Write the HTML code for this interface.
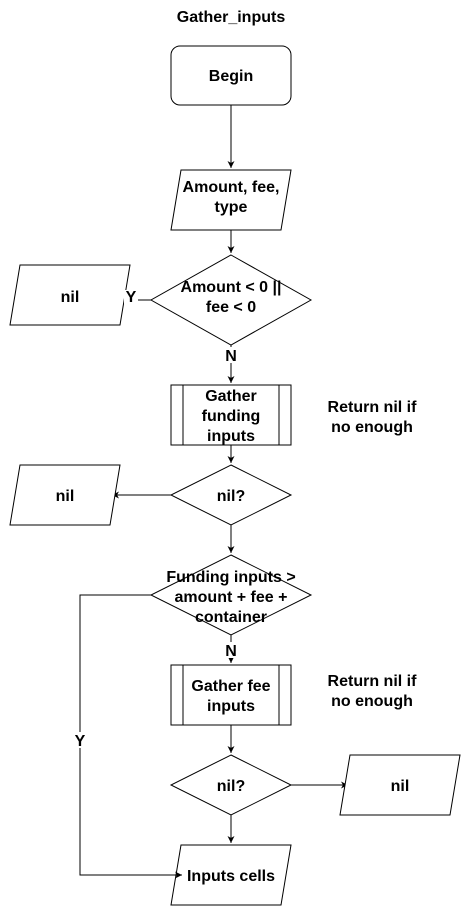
<!DOCTYPE html>
<html><head><style>body{margin:0;background:#fff}</style></head><body>
<svg width="461" height="906" xmlns="http://www.w3.org/2000/svg" font-family="Liberation Sans, Arial, sans-serif" font-weight="bold" font-size="16">
<defs><marker id="a" markerWidth="8" markerHeight="8" refX="7" refY="4" orient="auto" markerUnits="userSpaceOnUse"><path d="M0,0.5 L7,4 L0,7.5 L2,4 Z" fill="#000"/></marker></defs>
<g fill="none" stroke="#000" stroke-width="1">
<rect x="171" y="46" width="120" height="59" rx="9" fill="#fff"/>
<line x1="231" y1="105" x2="231" y2="168" marker-end="url(#a)"/>
<polygon points="181,170 291,170 281,230 171,230" fill="#fff"/>
<line x1="231" y1="230" x2="231" y2="253" marker-end="url(#a)"/>
<polygon points="231,255 311,300 231,345 151,300" fill="#fff"/>
<line x1="151" y1="300" x2="122" y2="300" marker-end="url(#a)"/>
<polygon points="20,265 130,265 120,325 10,325" fill="#fff"/>
<line x1="231" y1="345" x2="231" y2="383" marker-end="url(#a)"/>
<rect x="171" y="385" width="120" height="60" fill="#fff"/>
<line x1="183" y1="385" x2="183" y2="445"/><line x1="279" y1="385" x2="279" y2="445"/>
<line x1="231" y1="445" x2="231" y2="463" marker-end="url(#a)"/>
<polygon points="231,465 291,495 231,525 171,495" fill="#fff"/>
<line x1="171" y1="495" x2="112" y2="495" marker-end="url(#a)"/>
<polygon points="20,465 120,465 110,525 10,525" fill="#fff"/>
<line x1="231" y1="525" x2="231" y2="553" marker-end="url(#a)"/>
<polygon points="231,555 311,595 231,635 151,595" fill="#fff"/>
<polygon points="181,845 291,845 281,905 171,905" fill="#fff"/>
<polyline points="151,595 80,595 80,875 182,875" marker-end="url(#a)"/>
<line x1="231" y1="635" x2="231" y2="663" marker-end="url(#a)"/>
<rect x="171" y="665" width="120" height="60" fill="#fff"/>
<line x1="183" y1="665" x2="183" y2="725"/><line x1="279" y1="665" x2="279" y2="725"/>
<line x1="231" y1="725" x2="231" y2="753" marker-end="url(#a)"/>
<polygon points="231,755 291,785 231,815 171,785" fill="#fff"/>
<line x1="291" y1="785" x2="348" y2="785" marker-end="url(#a)"/>
<polygon points="350,755 460,755 450,815 340,815" fill="#fff"/>
<line x1="231" y1="815" x2="231" y2="843" marker-end="url(#a)"/>
</g>
<g text-anchor="middle" fill="#000">
<text x="231" y="22">Gather_inputs</text>
<text x="231" y="81">Begin</text>
<text x="231" y="192">Amount, fee,</text><text x="231" y="212">type</text>
<text x="231" y="292">Amount &lt; 0 ||</text><text x="231" y="312">fee &lt; 0</text>
<rect x="124" y="290" width="14" height="16" fill="#fff"/>
<text x="131" y="302">Y</text>
<text x="70" y="302">nil</text>
<rect x="224" y="347" width="14" height="16" fill="#fff"/>
<text x="231" y="361">N</text>
<text x="231" y="401">Gather</text><text x="231" y="421">funding</text><text x="231" y="441">inputs</text>
<text x="372" y="412">Return nil if</text><text x="372" y="432">no enough</text>
<text x="231" y="501">nil?</text>
<text x="65" y="501">nil</text>
<text x="231" y="582">Funding inputs &gt;</text><text x="231" y="602">amount + fee +</text><text x="231" y="622">container</text>
<rect x="224" y="642" width="14" height="16" fill="#fff"/>
<text x="231" y="656">N</text>
<rect x="73" y="732" width="14" height="16" fill="#fff"/>
<text x="80" y="746">Y</text>
<text x="231" y="691">Gather fee</text><text x="231" y="711">inputs</text>
<text x="372" y="686">Return nil if</text><text x="372" y="706">no enough</text>
<text x="231" y="791">nil?</text>
<text x="400" y="791">nil</text>
<text x="231" y="881">Inputs cells</text>
</g>
</svg>
</body></html>
